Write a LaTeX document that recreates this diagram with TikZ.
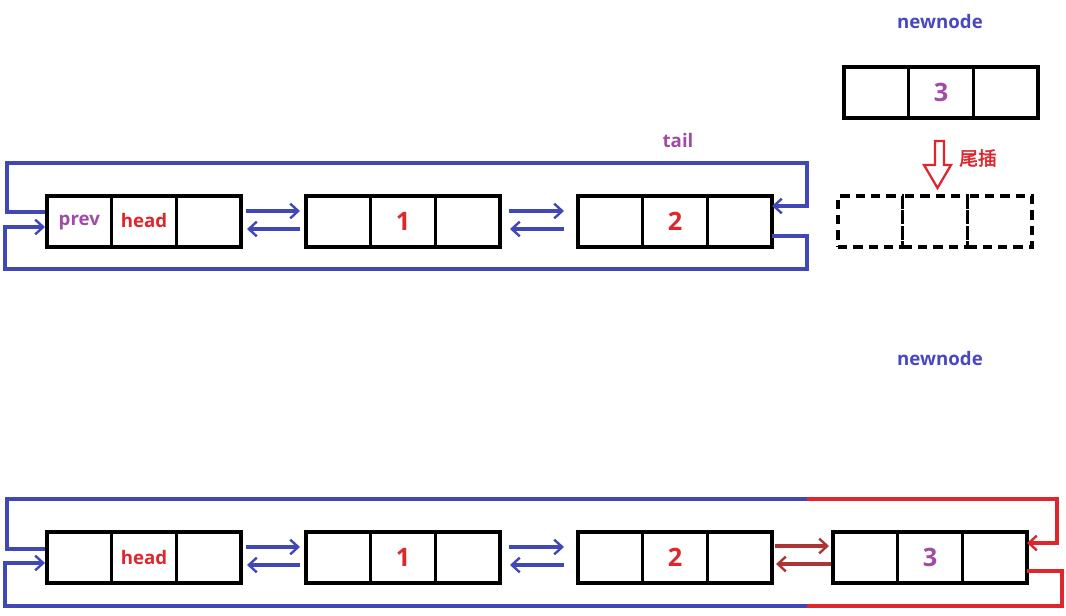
\documentclass[tikz,border=0pt]{standalone}
\usepackage{fontspec}
\setmainfont{Open Sans}
\newfontfamily\cjk[FakeBold=2.5]{Noto Sans CJK SC}
\usetikzlibrary{calc,arrows.meta}
\definecolor{lblue}{RGB}{64,72,184}
\definecolor{tblue}{RGB}{72,72,192}
\definecolor{lred}{RGB}{222,38,44}
\definecolor{dred}{RGB}{172,52,52}
\definecolor{lpurple}{RGB}{160,76,164}
\tikzset{
  cell/.style={draw=black,line width=2.5pt,minimum width=48.5pt,minimum height=38.25pt,inner sep=0pt,outer sep=0pt,font=\bfseries\fontsize{19}{19}\selectfont},
  dcell/.style={cell,dash pattern=on 7pt off 4.5pt},
  link/.style={line width=2.4pt,-{Straight Barb[length=6pt,width=11pt,line width=1.8pt]}},
  lbl/.style={font=\bfseries\fontsize{14}{15}\selectfont,inner sep=0pt},
}
\begin{document}
\begin{tikzpicture}[x=0.75pt,y=-0.75pt]
\useasboundingbox (0,0) rectangle (1066,616);
\def\w{64.67}
% ---------- top list ----------
\foreach \n/\xo in {0/47,1/306,2/578}{
  \foreach \j in {0,1,2}{
    \node[cell] (t\n\j) at ({\xo+\w*(\j+0.5)},221.5) {};
  }
}
\node[lbl,text=lpurple] at ($(t00)+(0,1.5)$) {prev};
\node[lbl,text=lred] at ($(t01)+(0,-0.5)$) {head};
\node[cell,text=lred,draw=none] at (t11) {1};
\node[cell,text=lred,draw=none] at (t21) {2};
\node[lbl,text=lpurple] (tail) at (678,141) {tail};
% newnode (top)
\node[lbl,text=tblue] (nn1) at (940,22) {newnode};
\foreach \j in {0,1,2}{
  \node[cell] (n\j) at ({844+\w*(\j+0.5)},92.5) {};
}
\node[cell,text=lpurple,draw=none] at (n1) {3};
% dashed target
\foreach \j in {0,1,2}{
  \node[dcell] (d\j) at ({838+\w*(\j+0.5)},221.5) {};
}
% hollow arrow
\draw[lred,line width=1.7pt,line join=miter]
  (935,141) -- (944,141) -- (944,165) -- (951,165) -- (937.5,188) -- (924,165) -- (935,165) -- cycle;
\node[text=lred,font=\cjk\fontsize{14}{15}\selectfont,inner sep=0pt] (wc) at (978,158) {尾插};
% arrows between top nodes
\draw[link,lblue] ($(t02.east)+(5,-10.5)$) -- ($(t10.west)+(-6,-10.5)$);
\draw[link,lblue] ($(t10.west)+(-6,7.5)$) -- ($(t02.east)+(6,7.5)$);
\draw[link,lblue] ($(t12.east)+(9,-10.5)$) -- ($(t20.west)+(-14,-10.5)$);
\draw[link,lblue] ($(t20.west)+(-14,7.5)$) -- ($(t12.east)+(10,7.5)$);
% top loops
\coordinate (a1) at (7,163);
\coordinate (a2) at (807,163);
\coordinate (b1) at (5,269);
\coordinate (b2) at (807,269);
\draw[link,lblue,line join=miter] ($(t00.west)+(-2,-9.5)$) -| (a1) -- (a2) |- ($(t22.east)+(0,-15.5)$);
\draw[link,lblue,line join=miter] ($(t22.east)+(0,14.5)$) -| (b2) -- (b1) |- ($(t00.west)+(-2,5.5)$);
% ---------- bottom list ----------
\node[lbl,text=tblue] (nn2) at (940,358) {newnode};
\foreach \n/\xo in {0/47,1/306,2/578,3/833}{
  \foreach \j in {0,1,2}{
    \node[cell] (b\n\j) at ({\xo+\w*(\j+0.5)},557.5) {};
  }
}
\node[lbl,text=lred] at ($(b01)+(0,-0.5)$) {head};
\node[cell,text=lred,draw=none] at (b11) {1};
\node[cell,text=lred,draw=none] at (b21) {2};
\node[cell,text=lpurple,draw=none] at (b31) {3};
\draw[link,lblue] ($(b02.east)+(5,-10.5)$) -- ($(b10.west)+(-6,-10.5)$);
\draw[link,lblue] ($(b10.west)+(-6,7.5)$) -- ($(b02.east)+(6,7.5)$);
\draw[link,lblue] ($(b12.east)+(9,-10.5)$) -- ($(b20.west)+(-14,-10.5)$);
\draw[link,lblue] ($(b20.west)+(-14,7.5)$) -- ($(b12.east)+(10,7.5)$);
\draw[link,dred] ($(b22.east)+(3,-11.5)$) -- ($(b30.west)+(-4,-11.5)$);
\draw[link,dred] ($(b30.west)+(-2,6.5)$) -- ($(b22.east)+(4,6.5)$);
\coordinate (c1) at (7,499);
\coordinate (c2) at (807,499);
\coordinate (c3) at (1057,499);
\coordinate (e1) at (5,606);
\coordinate (e2) at (807,606);
\coordinate (e3) at (1062,606);
\draw[lblue,line width=2.4pt,line join=miter] ($(b00.west)+(-2,-8.5)$) -| (c1) -- (c2);
\draw[link,lred,line join=miter] (c2) -- (c3) |- ($(b32.east)+(0,-14.5)$);
\draw[lred,line width=2.4pt,line join=miter] ($(b32.east)+(0,13.5)$) -| (e3) -- (e2);
\draw[link,lblue,line join=miter] (e2) -- (e1) |- ($(b00.west)+(-2,5.5)$);
\end{tikzpicture}
\end{document}
